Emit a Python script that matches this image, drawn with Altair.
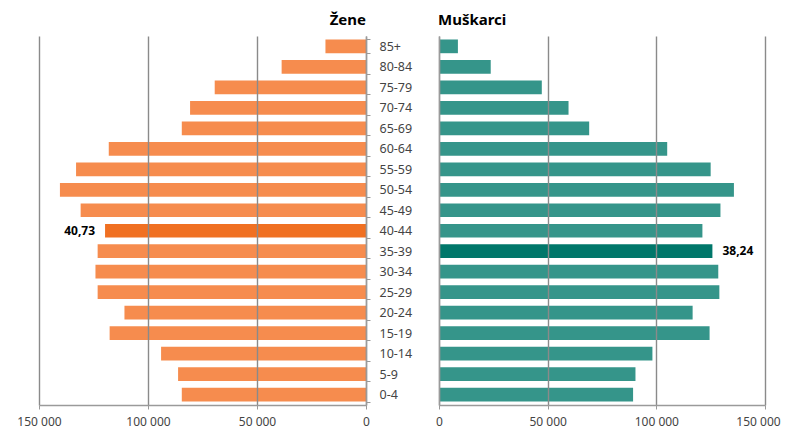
import altair as alt
import pandas as pd

ages = ["85+", "80-84", "75-79", "70-74", "65-69", "60-64", "55-59", "50-54", "45-49",
        "40-44", "35-39", "30-34", "25-29", "20-24", "15-19", "10-14", "5-9", "0-4"]
women = [18600, 38700, 69400, 80700, 84500, 118000, 133000, 140400, 130900,
         119700, 123100, 124100, 123100, 110800, 117600, 94000, 86200, 84500]
men = [8700, 23800, 47300, 59600, 69100, 105000, 125000, 135700, 129500,
       121200, 125800, 128500, 129000, 116700, 124500, 98200, 90400, 89300]
women_title = "Žene"
men_title = "Muškarci"
women_hl_age = "40-44"
women_hl_label = "40,73"
men_hl_age = "35-39"
men_hl_label = "38,24"
x_ticks = [0, 50000, 100000, 150000]

FONT = "Noto Sans"
W_L, W_R, H = 327, 326, 369

dw = pd.DataFrame({"age": ages, "value": women})
dw["hl"] = dw["age"] == women_hl_age
dw["label"] = [women_hl_label if a == women_hl_age else "" for a in ages]
dm = pd.DataFrame({"age": ages, "value": men})
dm["hl"] = dm["age"] == men_hl_age
dm["label"] = [men_hl_label if a == men_hl_age else "" for a in ages]

label_expr = "datum.value == 0 ? '0' : format(datum.value / 1000, 'd') + ' 000'"

def xaxis(right=False):
    kw = {}
    if right:
        kw["labelOffset"] = {"condition": {"test": "datum.value == 150000", "value": -7}, "value": 0}
    return alt.Axis(values=x_ticks, labelExpr=label_expr, grid=True, gridColor="#8a8a8a",
                    gridWidth=1.4, domainColor="#9a9a9a", domainWidth=1.4, tickColor="#9a9a9a",
                    tickSize=4, labelColor="#444", labelFontSize=12, labelFont=FONT,
                    labelFlush=False, labelOverlap=False,
                    title=None, zindex=1, labelPadding=7, **kw)

yscale = alt.Scale(domain=ages, paddingInner=0.33, paddingOuter=0.17)

def title_layer(text, x, align):
    return alt.Chart(pd.DataFrame({"t": [text]})).mark_text(
        align=align, baseline="alphabetic", font=FONT, fontSize=15, fontWeight="bold",
        color="#000").encode(x=alt.value(x), y=alt.value(-11), text="t:N")

left_base = alt.Chart(dw)
left_bars = left_base.mark_bar().encode(
    x=alt.X("value:Q", scale=alt.Scale(domain=[0, 150000], reverse=True, nice=False), axis=xaxis()),
    y=alt.Y("age:N", sort=ages, scale=yscale,
            axis=alt.Axis(orient="right", title=None, domainColor="#9a9a9a", domainWidth=1.4,
                          ticks=True, tickBand="extent", tickColor="#9a9a9a", tickSize=4,
                          labelAlign="left", labelPadding=9, labelColor="#444",
                          labelFontSize=12.5, labelFont=FONT, zindex=1)),
    color=alt.condition("datum.hl", alt.value("#F07022"), alt.value("#F68C4E")),
)
left_text = left_base.transform_filter("datum.hl").mark_text(
    align="right", dx=-10, font=FONT, fontSize=12, fontWeight="bold", color="#000"
).encode(x=alt.X("value:Q"), y=alt.Y("age:N", sort=ages), text="label:N")
left = alt.layer(left_bars, left_text, title_layer(women_title, W_L, "right")).properties(
    width=W_L, height=H)

right_base = alt.Chart(dm)
right_bars = right_base.mark_bar().encode(
    x=alt.X("value:Q", scale=alt.Scale(domain=[0, 150000], nice=False), axis=xaxis(right=True)),
    y=alt.Y("age:N", sort=ages, scale=yscale,
            axis=alt.Axis(orient="left", title=None, labels=False, ticks=False,
                          domainColor="#9a9a9a", domainWidth=1.4, zindex=1)),
    color=alt.condition("datum.hl", alt.value("#00776A"), alt.value("#35958A")),
)
right_text = right_base.transform_filter("datum.hl").mark_text(
    align="left", dx=10, font=FONT, fontSize=12, fontWeight="bold", color="#000"
).encode(x=alt.X("value:Q"), y=alt.Y("age:N", sort=ages), text="label:N")
right = alt.layer(right_bars, right_text, title_layer(men_title, -1, "left")).properties(
    width=W_R, height=H)

chart = alt.hconcat(left, right, spacing=73, bounds="flush").resolve_scale(y="shared").configure_view(
    stroke=None).properties(
    autosize=alt.AutoSizeParams(type="none"),
    padding={"left": 31, "right": 742, "top": 28, "bottom": 392}, background="white")

chart.save("out.html", embed_options={"renderer": "svg", "actions": False})
